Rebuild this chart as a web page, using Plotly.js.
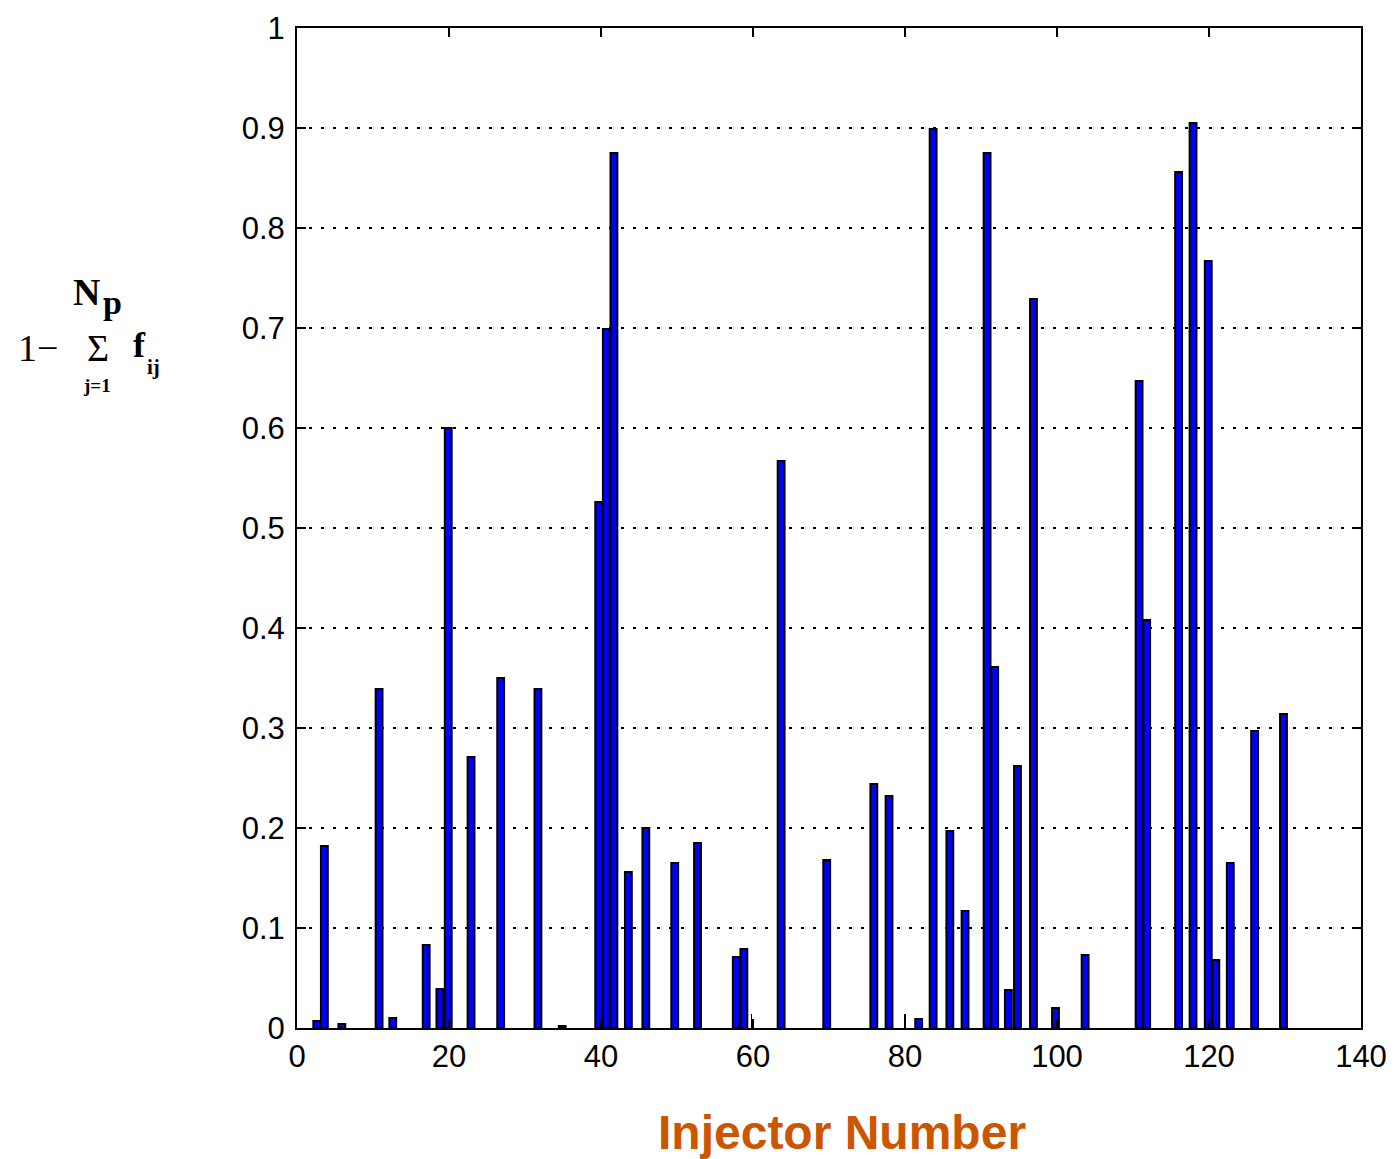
<!DOCTYPE html>
<html>
<head>
<meta charset="utf-8">
<script src="https://cdn.plot.ly/plotly-3.0.1.min.js"></script>
<style>
html,body{margin:0;padding:0;background:#fff;}
#chart{width:1399px;height:1159px;}
</style>
</head>
<body>
<div id="chart"></div>
<script>
// Injector positions and values
const injector = [2.6,3.6,5.9,10.8,12.6,17.0,18.8,19.9,22.9,26.8,31.7,34.9,39.7,40.7,41.7,43.6,45.9,49.7,52.7,57.8,58.8,63.7,69.7,75.9,77.9,81.8,83.7,85.9,87.9,90.8,91.8,93.6,94.8,96.9,99.8,103.7,110.8,111.8,116.0,117.9,119.9,120.9,122.8,126.0,129.8];
const values = [0.007,0.182,0.004,0.339,0.010,0.083,0.039,0.600,0.271,0.350,0.339,0.002,0.526,0.699,0.875,0.156,0.200,0.165,0.185,0.071,0.079,0.567,0.168,0.244,0.232,0.009,0.899,0.197,0.117,0.875,0.361,0.038,0.262,0.729,0.020,0.073,0.647,0.408,0.856,0.905,0.767,0.068,0.165,0.297,0.314];
// thin stems without fill
const stemX = [59.8, 80.0];
const stemY = [0.014, 0.014];

const xTicks = [0,20,40,60,80,100,120,140];
const xTickLabels = ["0","20","40","60","80","100","120","140"];
const yTicks = [0,0.1,0.2,0.3,0.4,0.5,0.6,0.7,0.8,0.9,1];
const yTickLabels = ["0","0.1","0.2","0.3","0.4","0.5","0.6","0.7","0.8","0.9","1"];
const xTitle = 'Injector Number';

const L = 297, R = 1361, T = 28, B = 1028;
function px(x){ return (x - L) / (R - L); }
function py(y){ return (B - y) / (B - T); }

const traces = [
  {
    type: 'bar', x: injector, y: values, width: 0.9,
    marker: {color: '#0000ff', line: {color: '#000000', width: 2}},
    hoverinfo: 'x+y', showlegend: false
  },
  {
    type: 'bar', x: stemX, y: stemY, width: 0.22,
    marker: {color: '#000000', line: {width: 0}},
    hoverinfo: 'x+y', showlegend: false
  }
];

const serif = 'Liberation Serif, Times New Roman, serif';
function ann(text, x, y, size, bold, xa, fam, col){
  return {
    text: bold ? '<b>' + text + '</b>' : text,
    xref: 'paper', yref: 'paper', x: px(x), y: py(y),
    xanchor: xa || 'center', yanchor: 'middle', showarrow: false,
    font: {family: fam || serif, size: size, color: col || '#000'}
  };
}

const layout = {
  width: 1399, height: 1159,
  margin: {l: L, r: 1399 - R, t: T, b: 1159 - B, pad: 0},
  paper_bgcolor: '#fff', plot_bgcolor: '#fff',
  barmode: 'overlay',
  bargap: 0,
  xaxis: {
    range: [0, 140], tickvals: xTicks, ticktext: xTickLabels,
    ticks: 'inside', ticklen: 9, tickwidth: 1.5, tickcolor: '#000',
    showline: true, linecolor: '#000', linewidth: 2, mirror: 'ticks',
    showgrid: false, zeroline: false,
    tickfont: {family: 'Liberation Sans, Arial, sans-serif', size: 31, color: '#000'},
    fixedrange: true
  },
  yaxis: {
    range: [0, 1], tickvals: yTicks, ticktext: yTickLabels,
    ticks: 'inside', ticklen: 9, tickwidth: 1.5, tickcolor: '#000',
    showline: true, linecolor: '#000', linewidth: 2, mirror: 'ticks',
    showgrid: true, gridcolor: '#000', gridwidth: 2.4, griddash: '2.5px,9.5px',
    zeroline: false,
    tickfont: {family: 'Liberation Sans, Arial, sans-serif', size: 31, color: '#000'},
    ticklabelstandoff: 4,
    fixedrange: true
  },
  annotations: [
    ann(xTitle, 842, 1132, 48, true, 'center', 'Liberation Sans, Arial, sans-serif', '#cc5500'),
    ann('N', 86, 292, 38, true),
    ann('p', 112, 302, 34, true),
    ann('1\u2212', 38, 348, 38, false),
    ann('\u03a3', 98, 348, 38, false),
    ann('j=1', 97, 385, 19, true),
    ann('f', 139, 345, 36, true),
    ann('ij', 153, 367, 21, true)
  ]
};

Plotly.newPlot('chart', traces, layout, {displayModeBar: false, staticPlot: true});
</script>
</body>
</html>
